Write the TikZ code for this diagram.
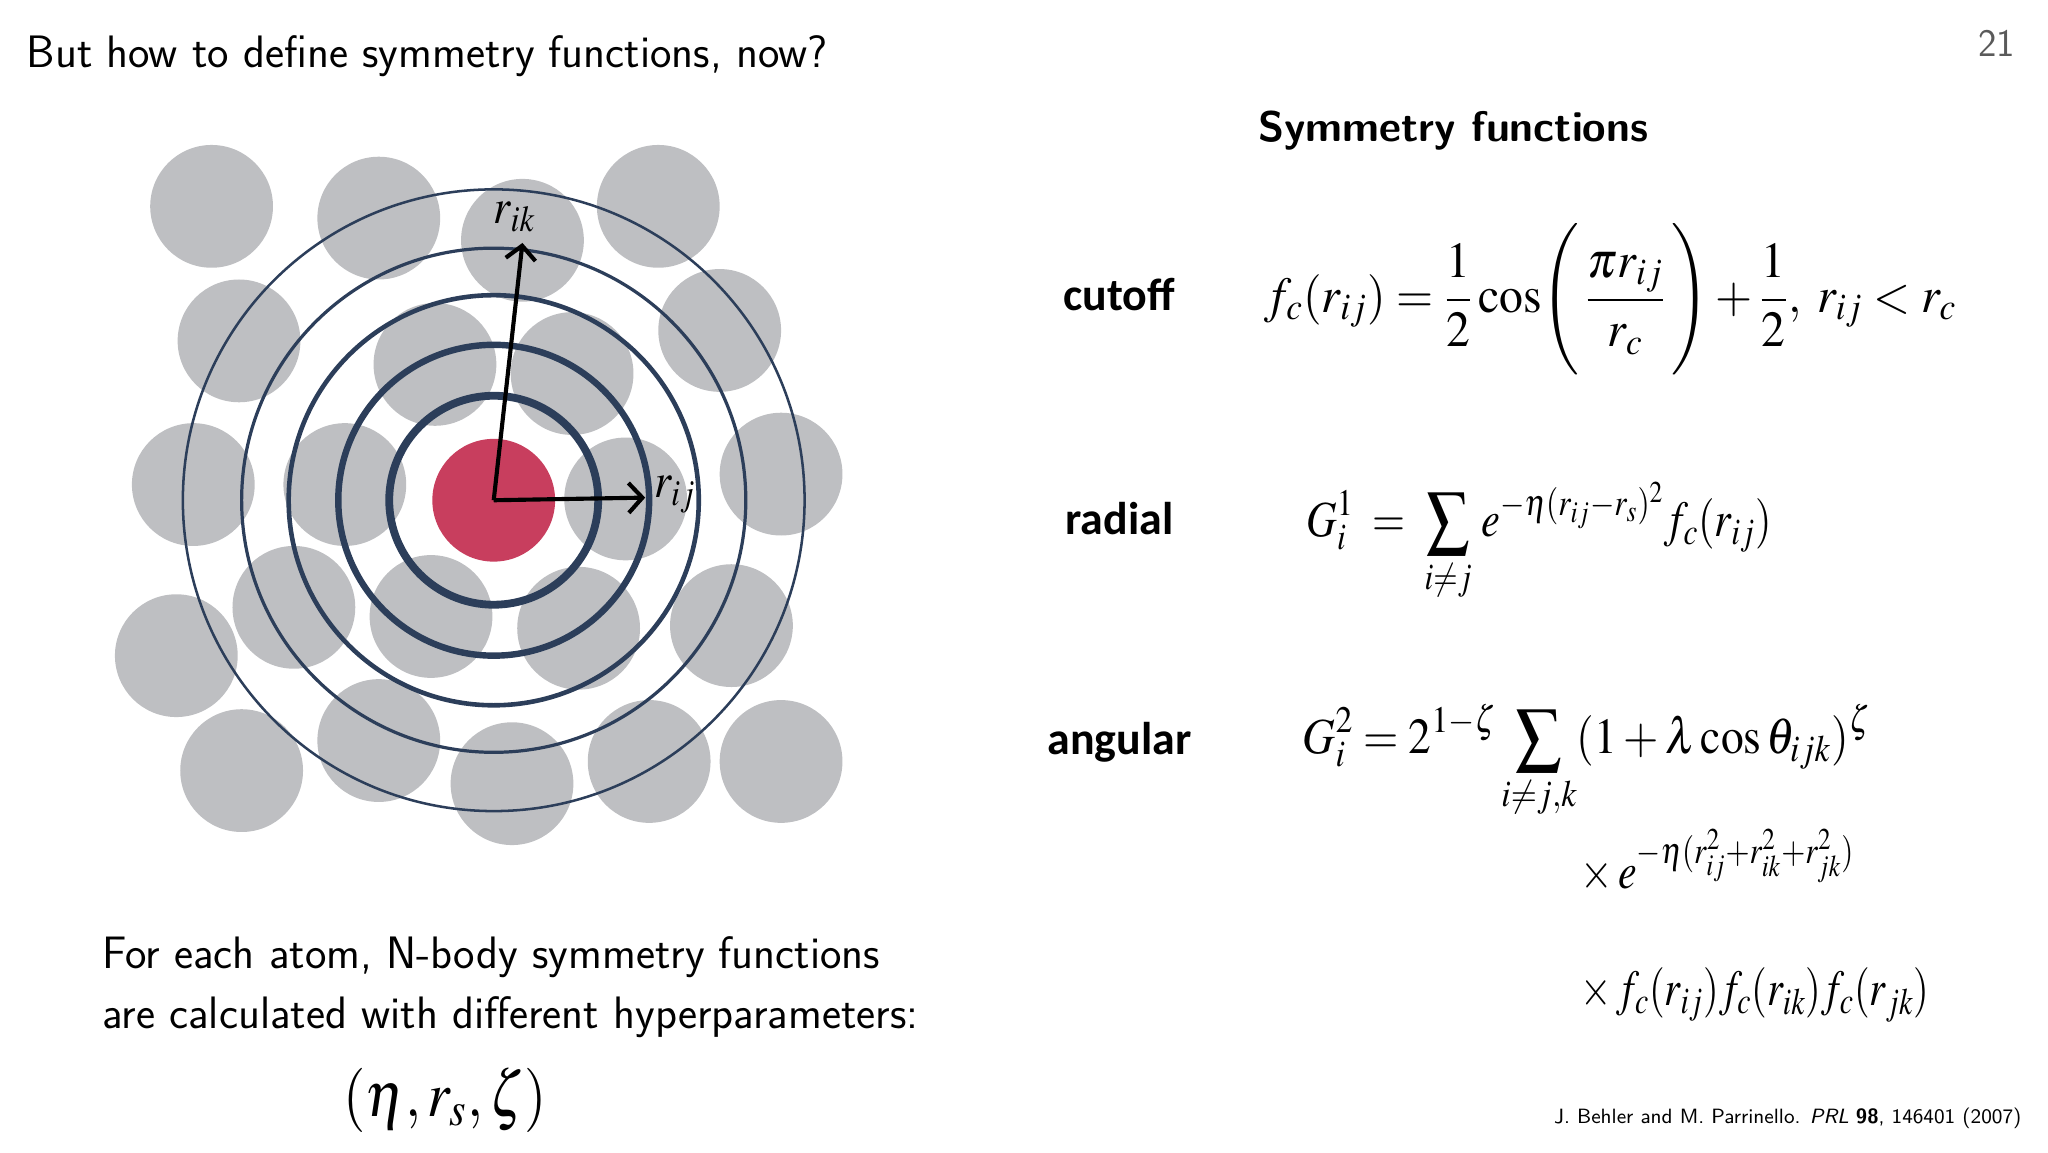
\documentclass[tikz,border=0pt]{standalone}
\usepackage[no-math]{fontspec}
\usepackage{mathptmx}
\usepackage{graphicx}
\setmainfont{Liberation Serif}
\newfontfamily\calfont{Carlito}
\usetikzlibrary{positioning,arrows.meta,calc}
\definecolor{AtomGrey}{RGB}{190,191,194}
\definecolor{AtomRed}{RGB}{200,62,94}
\definecolor{RingNavy}{RGB}{44,62,90}
\definecolor{PageGrey}{RGB}{90,90,90}

\begin{document}
\begin{tikzpicture}[every node/.style={font=\sffamily\fontsize{19.8}{26}\selectfont}]
\tikzset{
  atom/.style={circle, fill=AtomGrey, minimum size=1.88cm, inner sep=0pt},
  ring/.style={draw=RingNavy},
  bond/.style={-{Straight Barb[length=6pt, width=13pt, line width=1.8pt]}, line width=1.8pt, black},
  dist/.style={inner sep=0pt, font=\fontsize{21.5}{24}\selectfont},
  kind/.style={anchor=base, font=\calfont\bfseries\fontsize{20}{24}\selectfont},
  formula/.style={anchor=base west, inner sep=0pt, font=\fontsize{22}{26}\selectfont}
}
  \useasboundingbox (0,0) rectangle (31.36,17.64);
  % neighbour atoms
  \node[atom] (a1) at (3.24,14.48) {};
  \node[atom] (a2) at (5.80,14.30) {};
  \node[atom] (a3) at (8.00,13.96) {};
  \node[atom] (a4) at (10.08,14.48) {};
  \node[atom] (a5) at (3.66,12.42) {};
  \node[atom] (a6) at (11.02,12.58) {};
  \node[atom] (a7) at (6.66,12.06) {};
  \node[atom] (a8) at (8.76,11.92) {};
  \node[atom] (a9) at (2.96,10.22) {};
  \node[atom] (a10) at (5.28,10.22) {};
  \node[atom] (a11) at (9.58,10.00) {};
  \node[atom] (a12) at (11.96,10.38) {};
  \node[atom] (a13) at (4.50,8.34) {};
  \node[atom] (a14) at (6.60,8.20) {};
  \node[atom] (a15) at (8.86,8.02) {};
  \node[atom] (a16) at (11.20,8.06) {};
  \node[atom] (a17) at (2.70,7.60) {};
  \node[atom] (a18) at (3.70,5.84) {};
  \node[atom] (a19) at (5.80,6.30) {};
  \node[atom] (a20) at (7.84,5.64) {};
  \node[atom] (a21) at (9.94,5.98) {};
  \node[atom] (a22) at (11.96,5.98) {};
  \node[atom, fill=AtomRed] (ai) at (7.56,9.98) {};
  % cutoff shells
  \draw[ring, line width=3.4pt] (ai.center) circle (1.60);
  \draw[ring, line width=2.8pt] (ai.center) circle (2.38);
  \draw[ring, line width=2pt] (ai.center) circle (3.14);
  \draw[ring, line width=1.4pt] (ai.center) circle (3.86);
  \draw[ring, line width=1.1pt] (ai.center) circle (4.76);
  % distances
  \coordinate (j) at (9.88,10.02);
  \coordinate (k) at (8.00,13.92);
  \draw[bond] (ai.center) -- (j);
  \draw[bond] (ai.center) -- (k);
  \node[dist, anchor=base west] (rij) at ($(j)+(0.13,0)$) {\scalebox{0.88}[1]{$r_{ij}$}};
  \node[dist, anchor=base] (rik) at ($(k)+(-0.12,0.30)$) {\scalebox{0.88}[1]{$r_{ik}$}};

  \node[anchor=base west, inner sep=0pt] (title) at (0.40,16.60)
    {But how to define symmetry functions, now?};
  \node[anchor=base east, inner sep=0pt, text=PageGrey, font=\sffamily\fontsize{17}{20}\selectfont] (pagenum) at (30.86,16.78) {21};
  \node[anchor=base west, inner sep=0pt, font=\sffamily\bfseries\fontsize{18.6}{22}\selectfont] (header) at (19.26,15.48)
    {Symmetry functions};

  \node[kind] (cutoff) at (17.14,12.88) {cutoff};
  \node[kind] (radial) at (17.14,9.46) {radial};
  \node[kind] (angular) at (17.14,6.08) {angular};

  \node[formula] (eqcut) at (19.36,12.86)
    {\scalebox{0.945}[1]{$\displaystyle f_c(r_{ij}) = \frac{1}{2}\cos\Biggl(\,\frac{\pi r_{ij}}{r_c}\,\Biggr)+\frac{1}{2},\; r_{ij}<r_c$}};
  \node[formula] (eqrad) at (20.00,9.42)
    {\scalebox{0.84}[1]{$\displaystyle G_i^1 \;=\; \sum_{i\neq j}\, e^{-\eta(r_{ij}-r_s)^2} f_c(r_{ij})$}};
  \node[formula] (eqang) at (19.94,6.10)
    {\scalebox{0.9}[1]{$\displaystyle G_i^2 = 2^{1-\zeta}\sum_{i\neq j,k}(1+\lambda\cos\theta_{ijk})^\zeta$}};
  \node[formula] (eqexp) at (24.20,4.04)
    {\scalebox{0.83}[1]{$\times\, e^{-\eta(r_{ij}^2+r_{ik}^2+r_{jk}^2)}$}};
  \node[formula] (eqfc) at (24.20,2.24)
    {\scalebox{0.8}[1]{$\times\, f_c(r_{ij})f_c(r_{ik})f_c(r_{jk})$}};

  \node[anchor=west, align=left, inner sep=0pt] (note) at (1.56,2.52)
    {For each atom, N-body symmetry functions\\are calculated with different hyperparameters:};
  \node[inner sep=0pt, font=\fontsize{28}{32}\selectfont] (hyper) at (6.82,0.80)
    {\scalebox{0.89}[1]{$(\eta, r_s, \zeta)$}};
  \node[anchor=base east, inner sep=0pt, font=\sffamily\fontsize{9}{11}\selectfont] (cite) at (30.96,0.44)
    {J. Behler and M. Parrinello. \textit{PRL} \textbf{98}, 146401 (2007)};
\end{tikzpicture}
\end{document}
